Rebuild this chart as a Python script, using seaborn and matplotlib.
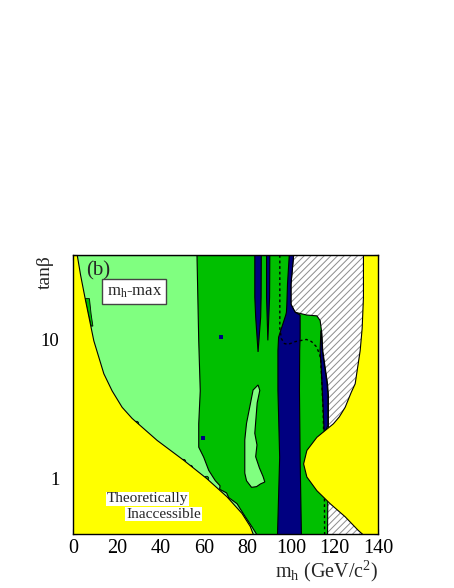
import matplotlib
matplotlib.use("Agg")
from matplotlib import pyplot as plt
from matplotlib.ticker import MultipleLocator, LogLocator, FixedLocator, NullFormatter
import seaborn as sns

# boundary curves: m_h (GeV) against tan(beta)
yel_left_tb = [40, 29, 19, 9.8, 5.7, 4.3, 3.28, 2.73, 1.9, 1.37, 1.01, 0.75, 0.57, 0.46, 0.4]
yel_left_mh = [1.6, 3.1, 5.4, 9.2, 13.8, 17.6, 22.2, 26.8, 38.3, 50.5, 61.2, 70.4, 77.3, 81.1, 82.6]

yel_right_tb = [40, 20, 12, 8.35, 4.83, 4.2, 3.28, 2.8, 2.5, 2.0, 1.61, 1.29, 1.04, 0.83, 0.67, 0.54, 0.43, 0.4]
yel_right_mh = [133.1, 133.1, 132.5, 131.6, 129.3, 127.5, 124.7, 122.0, 119.3, 111.7, 107.1, 105.6, 107.1, 111.7,
                117.8, 124.7, 130.8, 133.1]

# light green / dark green border
lg_tb = [40, 9.8, 4.3, 2.5, 1.7, 1.44, 1.16, 0.98, 0.9, 0.85, 0.8, 0.74, 0.67, 0.54, 0.457, 0.4]
lg_mh = [56.6, 57.4, 58.1, 57.4, 57.4, 59.7, 62.0, 65.0, 67.2, 67.0, 70.2, 71.2, 75.0, 78.8, 81.9, 84.2]

# edge of the hatched (not excluded) area
hatch_tb = [40, 25, 17.9, 15.7, 15.0, 14.8, 13.7, 11, 8.35, 6.34, 4.83, 4.0, 2.4, 1.0, 0.4]
hatch_mh = [101.0, 99.8, 99.8, 101.7, 107.1, 111.7, 113.2, 114.0, 114.4, 115.5, 116.6, 117.0, 117.0, 116.8, 116.6]

# main dark blue band
navy_tb = [40, 25, 17.9, 15.7, 15.0, 12.3, 10.4, 8.35, 4.32, 1.44, 0.4]
navy_lo = [99.0, 98.2, 97.9, 97.7, 97.4, 95.6, 94.1, 93.8, 93.8, 94.6, 93.6]
navy_hi = [101.0, 99.8, 99.8, 101.7, 104.0, 104.0, 104.0, 103.8, 103.7, 104.0, 104.6]

# thin dark blue pieces
spike1_mh = [83.4, 83.4, 83.8, 84.9, 86.1, 86.3, 86.4]
spike1_tb = [40, 20, 14.4, 8.1, 14.4, 20, 40]
spike2_mh = [88.8, 88.8, 89.4, 90.2, 90.3]
spike2_tb = [40, 20, 9.8, 20, 40]
strip_mh = [113.8, 113.4, 113.9, 114.4, 114.9, 115.3, 117.0, 117.0, 116.6, 115.5, 114.4, 114.0]
strip_tb = [11.5, 8.35, 6.34, 4.32, 3.0, 2.12, 2.4, 4.0, 4.83, 6.34, 8.35, 11.5]

# light green island inside the dark green
island_mh = [84.9, 85.7, 84.5, 83.4, 84.4, 83.8, 85.5, 87.2, 88.0, 86.0, 84.2, 81.9, 79.6, 78.8, 78.8, 79.6, 81.1, 82.6]
island_tb = [4.7, 4.3, 3.5, 2.12, 1.75, 1.44, 1.2, 1.04, 0.95, 0.92, 0.88, 0.87, 0.97, 1.1, 1.9, 2.5, 3.28, 4.32]

# small dark green sliver near the left edge
sliver_mh = [5.4, 7.4, 8.2, 9.0, 8.2, 6.9]
sliver_tb = [19.5, 19.5, 15, 12.4, 12.4, 15]

# expected limit (dashed)
exp_mh = [94.9, 94.9, 95.6, 97.0, 98.7, 102.0, 107.1, 109.5, 111.7, 113.2, 113.7, 114.2, 114.8, 115.3, 115.5]
exp_tb = [40, 12, 10.1, 9.3, 9.17, 9.6, 9.95, 9.6, 8.83, 7.8, 7.08, 5.0, 3.0, 1.5, 0.4]

dot_mh = [67.8, 59.7]
dot_tb = [10.4, 1.95]
blob_mh = [28.6, 50.5, 53.5, 60.8]
blob_tb = [2.52, 1.34, 1.22, 1.01]

LIGHT = "#80ff80"
DARK = "#00bf00"
NAVY = "#000080"
YELLOW = "#ffff00"

sns.set_theme(style="ticks")
plt.rcParams["font.family"] = ["Liberation Serif", "DejaVu Serif"]
plt.rcParams["mathtext.fontset"] = "custom"
plt.rcParams["mathtext.rm"] = "Liberation Serif"
plt.rcParams["mathtext.it"] = "Liberation Serif:italic"
plt.rcParams["hatch.linewidth"] = 0.7

fig = plt.figure(figsize=(4.54, 5.88), dpi=100)
ax = fig.add_axes([0.1615, 0.091, 0.671, 0.4753])
ax.set_yscale("log")

edge = dict(edgecolor="black", linewidth=0.8)

# hatched region first, then the coloured zones on top
ax.fill_betweenx(hatch_tb, hatch_mh, 140, facecolor="white", edgecolor="#8c8c8c",
                 hatch="/////", linewidth=0)
ax.fill_betweenx(hatch_tb, -5, hatch_mh, facecolor=DARK, **edge)
ax.fill_betweenx(lg_tb, -5, lg_mh, facecolor=LIGHT, **edge)
ax.fill(sliver_mh, sliver_tb, facecolor=DARK, edgecolor="black", linewidth=0.6)
ax.fill_betweenx(navy_tb, navy_lo, navy_hi, facecolor=NAVY, **edge)
ax.fill(spike1_mh, spike1_tb, facecolor=NAVY, **edge)
ax.fill(spike2_mh, spike2_tb, facecolor=NAVY, **edge)
ax.fill(strip_mh, strip_tb, facecolor=NAVY, **edge)
ax.fill(island_mh, island_tb, facecolor=LIGHT, **edge)

sns.lineplot(x=exp_mh, y=exp_tb, sort=False, estimator=None, color="black",
             linewidth=1.0, linestyle=(0, (2, 2)), ax=ax)

sns.scatterplot(x=blob_mh, y=blob_tb, color=DARK, edgecolor="black", linewidth=0.6,
                s=10, marker="o", ax=ax, zorder=3)

ax.fill_betweenx(yel_left_tb, -5, yel_left_mh, facecolor=YELLOW, zorder=4, **edge)
ax.fill_betweenx(yel_right_tb, yel_right_mh, 145, facecolor=YELLOW, zorder=4, **edge)

sns.scatterplot(x=dot_mh, y=dot_tb, color=NAVY, marker="s", s=8, linewidth=0, ax=ax, zorder=5)

ax.set_xlim(0, 140)
ax.set_ylim(0.4, 40)

ax.xaxis.set_major_locator(MultipleLocator(20))
ax.xaxis.set_minor_locator(MultipleLocator(5))
ax.yaxis.set_major_locator(FixedLocator([1, 10]))
ax.yaxis.set_major_formatter(matplotlib.ticker.FixedFormatter(["1", "10"]))
ax.yaxis.set_minor_locator(LogLocator(base=10, subs=[2, 3, 4, 5, 6, 7, 8, 9]))
ax.yaxis.set_minor_formatter(NullFormatter())

ax.tick_params(which="both", direction="in", top=True, right=True, colors="black", width=0.8)
ax.tick_params(axis="x", which="major", length=3.6, pad=3, labelsize=14.5)
ax.tick_params(axis="x", which="minor", length=2.4)
ax.tick_params(axis="y", which="major", length=5.8, pad=10, labelsize=13.5)
ax.tick_params(axis="y", which="minor", length=2.9)
for sp in ax.spines.values():
    sp.set_color("black")
    sp.set_linewidth(1.0)
    sp.set_zorder(10)

ax.set_xlabel(r"$\mathregular{m_h}$ (GeV/c$^\mathregular{2}$)", fontsize=14.5, loc="right", labelpad=1)
ax.set_ylabel("tanβ", fontsize=14, loc="top")
ax.yaxis.set_label_coords(-0.065, 1.0)

ax.text(0.043, 0.976, "(b)", transform=ax.transAxes, fontsize=15, ha="left", va="top", zorder=11)
ax.text(0.2, 0.869, r"$\mathregular{m_h}$-max", transform=ax.transAxes, fontsize=12,
        ha="center", va="center", zorder=11,
        bbox=dict(boxstyle="square,pad=0.25", facecolor="white", edgecolor="#444444", linewidth=1))
ax.text(0.2435, 0.127, "Theoretically", transform=ax.transAxes, fontsize=11, ha="center",
        va="center", zorder=11, bbox=dict(boxstyle="square,pad=0.05", facecolor="white", edgecolor="none"))
ax.text(0.296, 0.073, "Inaccessible", transform=ax.transAxes, fontsize=11, ha="center",
        va="center", zorder=11, bbox=dict(boxstyle="square,pad=0.05", facecolor="white", edgecolor="none"))

fig.savefig("out.png", dpi=100, facecolor="white")
